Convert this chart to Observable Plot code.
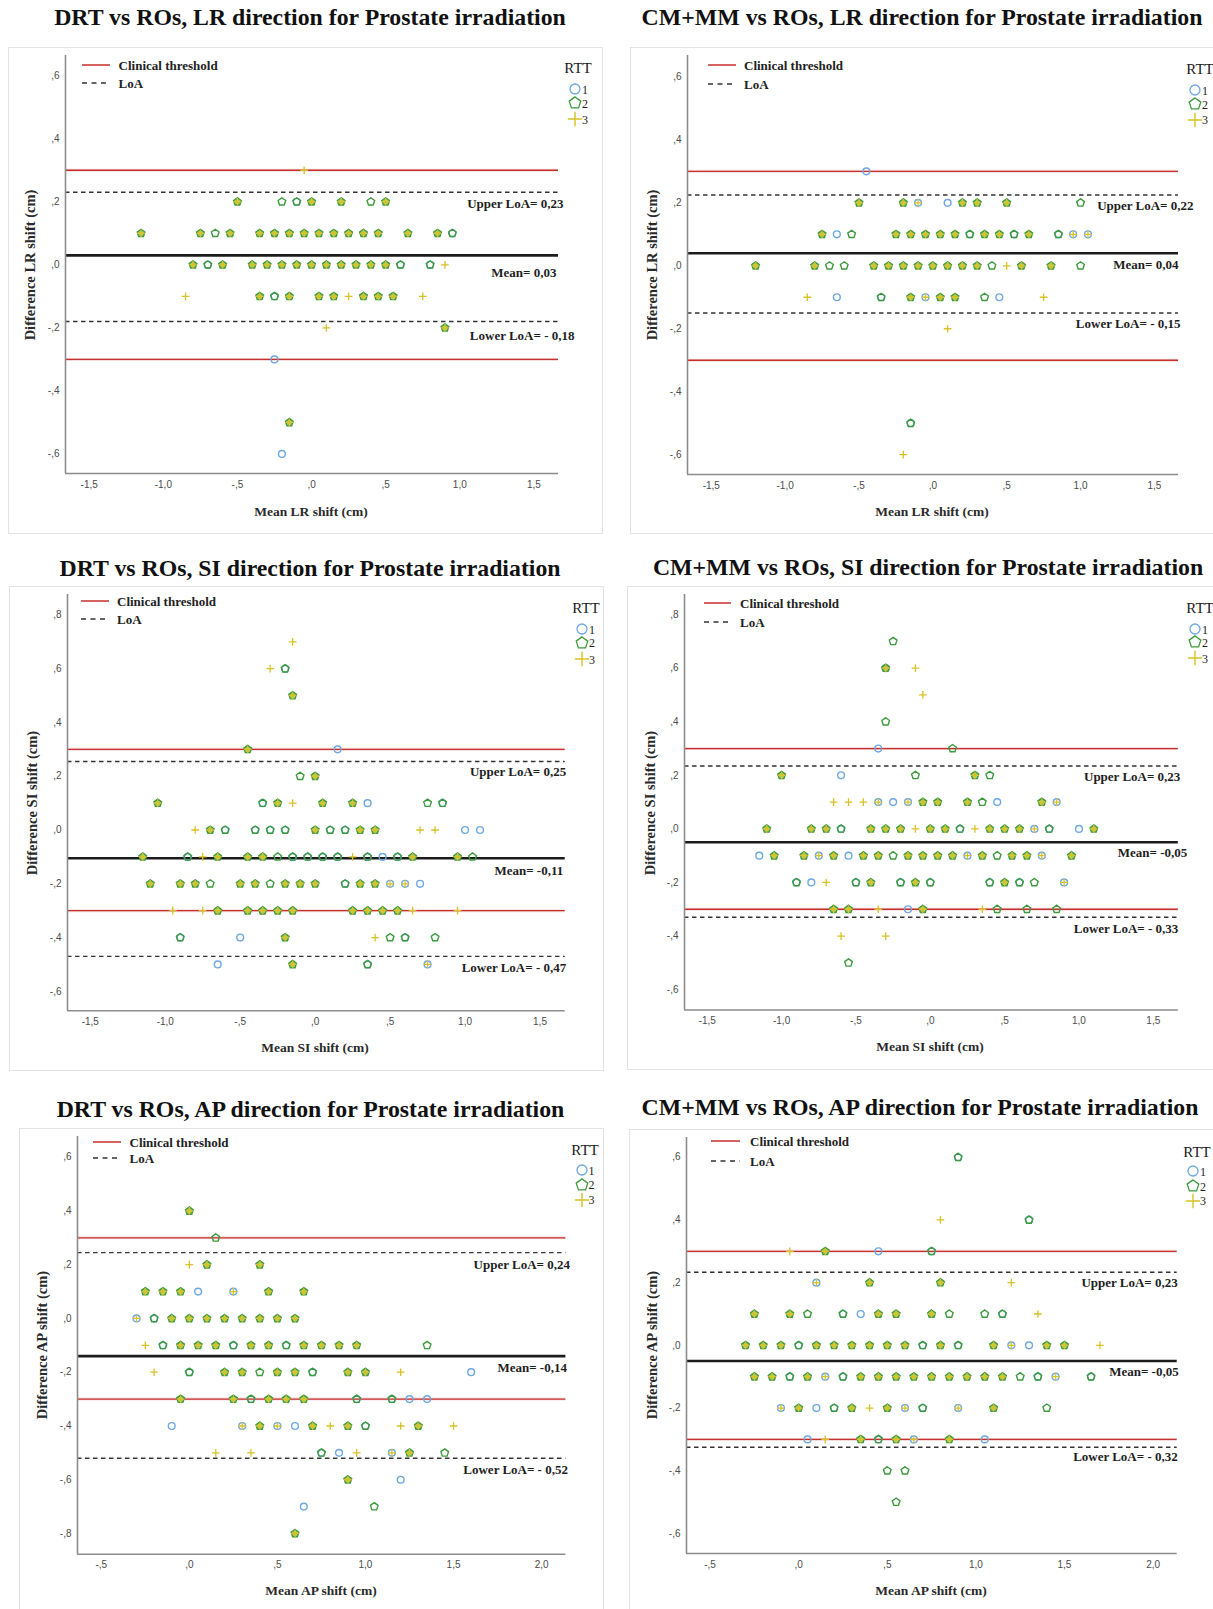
<!DOCTYPE html>
<html><head><meta charset="utf-8">
<script src="https://cdn.jsdelivr.net/npm/d3@7"></script>
<script src="https://cdn.jsdelivr.net/npm/@observablehq/plot@0.6"></script>
<style>
body{margin:0;background:#fff;}
#page{position:relative;width:1213px;height:1609px;overflow:hidden;background:#fff;font-family:"Liberation Serif","Times New Roman",serif;}
#page div{position:absolute;white-space:nowrap;line-height:1;}
</style>
</head><body><div id="page"></div>
<script>
// ---------------- DATA ----------------
const titles = [
  "DRT vs ROs, LR direction for Prostate irradiation",
  "CM+MM vs ROs, LR direction for Prostate irradiation",
  "DRT vs ROs, SI direction for Prostate irradiation",
  "CM+MM vs ROs, SI direction for Prostate irradiation",
  "DRT vs ROs, AP direction for Prostate irradiation",
  "CM+MM vs ROs, AP direction for Prostate irradiation"
];
const xTitles = ["Mean LR shift (cm)","Mean LR shift (cm)","Mean SI shift (cm)","Mean SI shift (cm)","Mean AP shift (cm)","Mean AP shift (cm)"];
const yTitles = ["Difference LR shift (cm)","Difference LR shift (cm)","Difference SI shift (cm)","Difference SI shift (cm)","Difference AP shift (cm)","Difference AP shift (cm)"];
const xTicksLRSI = [-1.5,-1,-0.5,0,0.5,1,1.5];
const xTicksAP = [-0.5,0,0.5,1,1.5,2];
const yTicks6 = [-0.6,-0.4,-0.2,0,0.2,0.4,0.6];
const yTicksSI = [-0.6,-0.4,-0.2,0,0.2,0.4,0.6,0.8];
const yTicksAP = [-0.8,-0.6,-0.4,-0.2,0,0.2,0.4,0.6];
const threshold = [-0.3, 0.3];
const meanDiff = [0.03, 0.04, -0.105, -0.05, -0.14, -0.05];
const upperLoA = [0.23, 0.225, 0.255, 0.235, 0.245, 0.233];
const lowerLoA = [-0.18, -0.15, -0.47, -0.33, -0.52, -0.325];
const upperLabels = ["Upper LoA= 0,23","Upper LoA= 0,22","Upper LoA= 0,25","Upper LoA= 0,23","Upper LoA= 0,24","Upper LoA= 0,23"];
const meanLabels = ["Mean= 0,03","Mean= 0,04","Mean= -0,11","Mean= -0,05","Mean= -0,14","Mean= -0,05"];
const lowerLabels = ["Lower LoA= - 0,18","Lower LoA= - 0,15","Lower LoA= - 0,47","Lower LoA= - 0,33","Lower LoA= - 0,52","Lower LoA= - 0,32"];
const rttLevels = ["1","2","3"];

// points: [mean shift, difference, RTTs having a point there]
const drtLR = [
[-0.05,0.3,"3"],
[-0.5,0.2,"23"],[-0.2,0.2,"2"],[-0.1,0.2,"12"],[0,0.2,"23"],[0.2,0.2,"23"],[0.4,0.2,"2"],[0.5,0.2,"23"],
[-1.15,0.1,"23"],[-0.75,0.1,"23"],[-0.65,0.1,"2"],[-0.55,0.1,"23"],[-0.35,0.1,"23"],[-0.25,0.1,"23"],[-0.15,0.1,"23"],[-0.05,0.1,"23"],[0.05,0.1,"23"],[0.15,0.1,"23"],[0.25,0.1,"23"],[0.35,0.1,"23"],[0.45,0.1,"23"],[0.65,0.1,"23"],[0.85,0.1,"23"],[0.95,0.1,"12"],
[-0.8,0,"23"],[-0.7,0,"12"],[-0.6,0,"23"],[-0.4,0,"23"],[-0.3,0,"23"],[-0.2,0,"23"],[-0.1,0,"23"],[0,0,"23"],[0.1,0,"23"],[0.2,0,"23"],[0.3,0,"23"],[0.4,0,"23"],[0.5,0,"23"],[0.6,0,"12"],[0.8,0,"12"],[0.9,0,"3"],
[-0.85,-0.1,"3"],[-0.35,-0.1,"23"],[-0.25,-0.1,"12"],[-0.15,-0.1,"23"],[0.05,-0.1,"23"],[0.15,-0.1,"23"],[0.25,-0.1,"3"],[0.35,-0.1,"23"],[0.45,-0.1,"23"],[0.55,-0.1,"23"],[0.75,-0.1,"3"],
[0.1,-0.2,"3"],[0.9,-0.2,"23"],
[-0.25,-0.3,"1"],
[-0.15,-0.5,"23"],
[-0.2,-0.6,"1"]
];
const cmLR = [
[-0.45,0.3,"1"],
[-0.5,0.2,"23"],[-0.2,0.2,"23"],[-0.1,0.2,"13"],[0.1,0.2,"1"],[0.2,0.2,"23"],[0.3,0.2,"23"],[0.5,0.2,"23"],[1.0,0.2,"2"],
[-0.75,0.1,"23"],[-0.65,0.1,"1"],[-0.55,0.1,"2"],[-0.25,0.1,"23"],[-0.15,0.1,"23"],[-0.05,0.1,"23"],[0.05,0.1,"23"],[0.15,0.1,"23"],[0.25,0.1,"12"],[0.35,0.1,"23"],[0.45,0.1,"23"],[0.55,0.1,"12"],[0.65,0.1,"23"],[0.85,0.1,"12"],[0.95,0.1,"13"],[1.05,0.1,"13"],
[-1.2,0,"23"],[-0.8,0,"23"],[-0.7,0,"2"],[-0.6,0,"2"],[-0.4,0,"23"],[-0.3,0,"23"],[-0.2,0,"23"],[-0.1,0,"23"],[0,0,"23"],[0.1,0,"23"],[0.2,0,"23"],[0.3,0,"23"],[0.4,0,"2"],[0.5,0,"3"],[0.6,0,"23"],[0.8,0,"23"],[1.0,0,"2"],
[-0.85,-0.1,"3"],[-0.65,-0.1,"1"],[-0.35,-0.1,"12"],[-0.15,-0.1,"23"],[-0.05,-0.1,"13"],[0.05,-0.1,"23"],[0.15,-0.1,"23"],[0.35,-0.1,"2"],[0.45,-0.1,"1"],[0.75,-0.1,"3"],
[0.1,-0.2,"3"],
[-0.15,-0.5,"12"],
[-0.2,-0.6,"3"]
];
const drtSI = [
[-0.15,0.7,"3"],
[-0.3,0.6,"3"],[-0.2,0.6,"12"],
[-0.15,0.5,"23"],
[-0.45,0.3,"23"],[0.15,0.3,"1"],
[-0.1,0.2,"2"],[0,0.2,"23"],
[-1.05,0.1,"23"],[-0.35,0.1,"12"],[-0.25,0.1,"23"],[-0.15,0.1,"3"],[0.05,0.1,"23"],[0.25,0.1,"23"],[0.35,0.1,"1"],[0.75,0.1,"2"],[0.85,0.1,"12"],
[-0.8,0,"3"],[-0.7,0,"23"],[-0.6,0,"12"],[-0.4,0,"12"],[-0.3,0,"12"],[-0.2,0,"12"],[0,0,"23"],[0.1,0,"12"],[0.2,0,"12"],[0.3,0,"23"],[0.4,0,"23"],[0.7,0,"3"],[0.8,0,"3"],[1.0,0,"1"],[1.1,0,"1"],
[-1.15,-0.1,"23"],[-0.85,-0.1,"12"],[-0.75,-0.1,"3"],[-0.65,-0.1,"23"],[-0.45,-0.1,"23"],[-0.35,-0.1,"23"],[-0.25,-0.1,"2"],[-0.15,-0.1,"12"],[-0.05,-0.1,"12"],[0.05,-0.1,"12"],[0.15,-0.1,"12"],[0.25,-0.1,"3"],[0.35,-0.1,"12"],[0.45,-0.1,"1"],[0.55,-0.1,"12"],[0.65,-0.1,"23"],[0.95,-0.1,"23"],[1.05,-0.1,"2"],
[-1.1,-0.2,"23"],[-0.9,-0.2,"23"],[-0.8,-0.2,"23"],[-0.7,-0.2,"2"],[-0.5,-0.2,"23"],[-0.4,-0.2,"23"],[-0.3,-0.2,"2"],[-0.2,-0.2,"23"],[-0.1,-0.2,"23"],[0,-0.2,"23"],[0.2,-0.2,"12"],[0.3,-0.2,"23"],[0.4,-0.2,"23"],[0.5,-0.2,"13"],[0.6,-0.2,"13"],[0.7,-0.2,"1"],
[-0.95,-0.3,"3"],[-0.75,-0.3,"3"],[-0.65,-0.3,"23"],[-0.45,-0.3,"23"],[-0.35,-0.3,"23"],[-0.25,-0.3,"23"],[-0.15,-0.3,"23"],[0.25,-0.3,"23"],[0.35,-0.3,"23"],[0.45,-0.3,"23"],[0.55,-0.3,"23"],[0.65,-0.3,"3"],[0.95,-0.3,"3"],
[-0.9,-0.4,"12"],[-0.5,-0.4,"1"],[-0.2,-0.4,"23"],[0.4,-0.4,"3"],[0.5,-0.4,"2"],[0.6,-0.4,"12"],[0.8,-0.4,"2"],
[-0.65,-0.5,"1"],[-0.15,-0.5,"23"],[0.35,-0.5,"12"],[0.75,-0.5,"13"]
];
const cmSI = [
[-0.25,0.7,"2"],
[-0.3,0.6,"123"],[-0.1,0.6,"3"],
[-0.05,0.5,"3"],
[-0.3,0.4,"2"],
[-0.35,0.3,"1"],[0.15,0.3,"2"],
[-1.0,0.2,"23"],[-0.6,0.2,"1"],[-0.1,0.2,"2"],[0.3,0.2,"23"],[0.4,0.2,"2"],
[-0.65,0.1,"3"],[-0.55,0.1,"3"],[-0.45,0.1,"3"],[-0.35,0.1,"13"],[-0.25,0.1,"1"],[-0.15,0.1,"13"],[-0.05,0.1,"23"],[0.05,0.1,"23"],[0.25,0.1,"23"],[0.35,0.1,"2"],[0.45,0.1,"1"],[0.75,0.1,"23"],[0.85,0.1,"13"],
[-1.1,0,"23"],[-0.8,0,"23"],[-0.7,0,"23"],[-0.6,0,"12"],[-0.4,0,"23"],[-0.3,0,"23"],[-0.2,0,"23"],[-0.1,0,"3"],[0,0,"23"],[0.1,0,"23"],[0.2,0,"12"],[0.3,0,"3"],[0.4,0,"23"],[0.5,0,"23"],[0.6,0,"23"],[0.7,0,"13"],[0.8,0,"12"],[1.0,0,"1"],[1.1,0,"23"],
[-1.15,-0.1,"1"],[-1.05,-0.1,"23"],[-0.85,-0.1,"23"],[-0.75,-0.1,"13"],[-0.65,-0.1,"23"],[-0.55,-0.1,"1"],[-0.45,-0.1,"23"],[-0.35,-0.1,"23"],[-0.25,-0.1,"2"],[-0.15,-0.1,"23"],[-0.05,-0.1,"23"],[0.05,-0.1,"23"],[0.15,-0.1,"23"],[0.25,-0.1,"13"],[0.35,-0.1,"23"],[0.45,-0.1,"2"],[0.55,-0.1,"23"],[0.65,-0.1,"23"],[0.75,-0.1,"13"],[0.95,-0.1,"23"],
[-0.9,-0.2,"12"],[-0.8,-0.2,"1"],[-0.7,-0.2,"3"],[-0.5,-0.2,"12"],[-0.4,-0.2,"23"],[-0.2,-0.2,"12"],[-0.1,-0.2,"23"],[0,-0.2,"12"],[0.4,-0.2,"12"],[0.5,-0.2,"23"],[0.6,-0.2,"12"],[0.7,-0.2,"2"],[0.9,-0.2,"13"],
[-0.65,-0.3,"23"],[-0.55,-0.3,"23"],[-0.35,-0.3,"3"],[-0.15,-0.3,"1"],[-0.05,-0.3,"23"],[0.35,-0.3,"3"],[0.45,-0.3,"2"],[0.65,-0.3,"2"],[0.85,-0.3,"2"],
[-0.6,-0.4,"3"],[-0.3,-0.4,"3"],
[-0.55,-0.5,"2"]
];
const drtAP = [
[0,0.4,"23"],
[0.15,0.3,"2"],
[0,0.2,"3"],[0.1,0.2,"23"],[0.4,0.2,"23"],
[-0.25,0.1,"23"],[-0.15,0.1,"23"],[-0.05,0.1,"23"],[0.05,0.1,"1"],[0.25,0.1,"13"],[0.45,0.1,"23"],[0.65,0.1,"23"],
[-0.3,0,"13"],[-0.2,0,"12"],[-0.1,0,"23"],[0,0,"23"],[0.1,0,"23"],[0.2,0,"23"],[0.3,0,"23"],[0.4,0,"23"],[0.5,0,"23"],[0.6,0,"23"],
[-0.25,-0.1,"3"],[-0.15,-0.1,"12"],[-0.05,-0.1,"23"],[0.05,-0.1,"23"],[0.15,-0.1,"23"],[0.25,-0.1,"12"],[0.35,-0.1,"23"],[0.45,-0.1,"23"],[0.55,-0.1,"12"],[0.65,-0.1,"23"],[0.75,-0.1,"23"],[0.85,-0.1,"23"],[0.95,-0.1,"23"],[1.35,-0.1,"2"],
[-0.2,-0.2,"3"],[0,-0.2,"12"],[0.2,-0.2,"23"],[0.3,-0.2,"23"],[0.4,-0.2,"2"],[0.5,-0.2,"23"],[0.6,-0.2,"23"],[0.7,-0.2,"12"],[0.9,-0.2,"23"],[1.0,-0.2,"23"],[1.2,-0.2,"3"],[1.6,-0.2,"1"],
[-0.05,-0.3,"23"],[0.25,-0.3,"23"],[0.35,-0.3,"12"],[0.45,-0.3,"23"],[0.55,-0.3,"23"],[0.65,-0.3,"23"],[0.95,-0.3,"12"],[1.15,-0.3,"12"],[1.25,-0.3,"1"],[1.35,-0.3,"1"],
[-0.1,-0.4,"1"],[0.3,-0.4,"13"],[0.4,-0.4,"23"],[0.5,-0.4,"13"],[0.6,-0.4,"1"],[0.7,-0.4,"23"],[0.8,-0.4,"3"],[0.9,-0.4,"23"],[1.0,-0.4,"12"],[1.2,-0.4,"3"],[1.3,-0.4,"23"],[1.5,-0.4,"3"],
[0.15,-0.5,"3"],[0.35,-0.5,"3"],[0.75,-0.5,"12"],[0.85,-0.5,"1"],[0.95,-0.5,"3"],[1.15,-0.5,"13"],[1.25,-0.5,"23"],[1.45,-0.5,"2"],
[0.9,-0.6,"23"],[1.2,-0.6,"1"],
[0.65,-0.7,"1"],[1.05,-0.7,"2"],
[0.6,-0.8,"23"]
];
const cmAP = [
[0.9,0.6,"12"],
[0.8,0.4,"3"],[1.3,0.4,"12"],
[-0.05,0.3,"3"],[0.15,0.3,"23"],[0.45,0.3,"1"],[0.75,0.3,"12"],
[0.1,0.2,"13"],[0.4,0.2,"23"],[0.8,0.2,"23"],[1.2,0.2,"3"],
[-0.25,0.1,"23"],[-0.05,0.1,"23"],[0.05,0.1,"2"],[0.25,0.1,"12"],[0.35,0.1,"1"],[0.45,0.1,"23"],[0.55,0.1,"23"],[0.75,0.1,"23"],[0.85,0.1,"2"],[1.05,0.1,"2"],[1.15,0.1,"12"],[1.35,0.1,"3"],
[-0.3,0,"23"],[-0.2,0,"23"],[-0.1,0,"23"],[0,0,"12"],[0.1,0,"23"],[0.2,0,"23"],[0.3,0,"23"],[0.4,0,"23"],[0.5,0,"23"],[0.6,0,"23"],[0.7,0,"12"],[0.8,0,"23"],[0.9,0,"12"],[1.1,0,"23"],[1.2,0,"13"],[1.3,0,"1"],[1.4,0,"23"],[1.5,0,"23"],[1.7,0,"3"],
[-0.25,-0.1,"23"],[-0.15,-0.1,"23"],[-0.05,-0.1,"12"],[0.05,-0.1,"23"],[0.15,-0.1,"13"],[0.25,-0.1,"12"],[0.35,-0.1,"23"],[0.45,-0.1,"23"],[0.55,-0.1,"23"],[0.65,-0.1,"23"],[0.75,-0.1,"23"],[0.85,-0.1,"23"],[0.95,-0.1,"23"],[1.05,-0.1,"23"],[1.15,-0.1,"23"],[1.25,-0.1,"2"],[1.35,-0.1,"12"],[1.45,-0.1,"13"],[1.65,-0.1,"12"],
[-0.1,-0.2,"13"],[0,-0.2,"23"],[0.1,-0.2,"1"],[0.2,-0.2,"12"],[0.3,-0.2,"23"],[0.4,-0.2,"3"],[0.5,-0.2,"23"],[0.6,-0.2,"13"],[0.7,-0.2,"12"],[0.9,-0.2,"13"],[1.1,-0.2,"23"],[1.4,-0.2,"2"],
[0.05,-0.3,"1"],[0.15,-0.3,"3"],[0.35,-0.3,"23"],[0.45,-0.3,"12"],[0.55,-0.3,"23"],[0.65,-0.3,"13"],[0.85,-0.3,"23"],[1.05,-0.3,"1"],
[0.5,-0.4,"2"],[0.6,-0.4,"2"],
[0.55,-0.5,"2"]
];

// ---------------- STYLE / LAYOUT ----------------
const blue = "#6ea8e4", green = "#3d9a3d", yellow = "#d8c226", red = "#c62f2d", mixFill = "#b9c95a";
const pentagon = {draw(ctx, size) {
  const R = Math.sqrt(size / 2.378);
  for (let k = 0; k < 5; k++) {
    const a = -Math.PI / 2 + k * 2 * Math.PI / 5;
    const px = R * Math.cos(a), py = R * Math.sin(a);
    if (k === 0) ctx.moveTo(px, py); else ctx.lineTo(px, py);
  }
  ctx.closePath();
}};
const fmt = v => {
  let s = Math.abs(v) < 1e-9 ? "0,0" : v.toFixed(1).replace(".", ",");
  return s.replace(/^(-?)0,/, "$1,");
};

const panels = [
 {data: drtLR, plot:{l:65,r:558,t:55,b:473}, xd:[-1.66,1.666], yd:[-0.662,0.664], xt:xTicksLRSI, yt:yTicks6,
  off:[[5,12],[-2,17],[16,14.6]], title:[310,18], frame:[8,47,595,487],
  leg:{x1:82,x2:110,y1:65,y2:83,tx:118.6}, rtt:{cx:578,cy:68,sx:575,sy:[89,103,119],nx:582}, xT:[311,511.5], yT:[30,265]},
 {data: cmLR, plot:{l:687,r:1178,t:55,b:474}, xd:[-1.661,1.663], yd:[-0.663,0.668], xt:xTicksLRSI, yt:yTicks6,
  off:[[15,11],[0,11.4],[2,11.3]], title:[922,17.5], frame:[630,47,600,487],
  leg:{x1:708,x2:736,y1:64.7,y2:83.6,tx:744}, rtt:{cx:1200,cy:69,sx:1195,sy:[90,104,119.7],nx:1202}, xT:[932,511.5], yT:[651.5,265]},
 {data: drtSI, plot:{l:67.3,r:565,t:594,b:1010.2}, xd:[-1.652,1.668], yd:[-0.672,0.876], xt:xTicksLRSI, yt:yTicksSI,
  off:[[1,10],[-2,12.3],[1,11.2]], title:[310,569], frame:[8.6,586.4,595.4,485],
  leg:{x1:81,x2:109,y1:601,y2:619,tx:117}, rtt:{cx:586,cy:608,sx:582,sy:[629,642.5,659],nx:589}, xT:[315,1048], yT:[32.3,803]},
 {data: cmSI, plot:{l:684.2,r:1178,t:594,b:1009.5}, xd:[-1.653,1.668], yd:[-0.676,0.875], xt:xTicksLRSI, yt:yTicksSI,
  off:[[2,10.7],[9,10.6],[0,12]], title:[928,567.5], frame:[627,586.4,600,483.6],
  leg:{x1:704,x2:731,y1:603,y2:621.5,tx:740}, rtt:{cx:1200,cy:608,sx:1195,sy:[629,642,658],nx:1202}, xT:[930,1046.7], yT:[650.4,803]},
 {data: drtAP, plot:{l:76.6,r:565,t:1135.7,b:1553.4}, xd:[-0.635,2.138], yd:[-0.877,0.677], xt:xTicksAP, yt:yTicksAP,
  off:[[4,12.4],[1,11.4],[2,11.3]], title:[310.5,1110], frame:[18.7,1128,585.3,500],
  leg:{x1:93,x2:121,y1:1141.7,y2:1158.3,tx:129.5}, rtt:{cx:585,cy:1150,sx:581.5,sy:[1170.4,1184.6,1199.8],nx:588.5}, xT:[321,1591], yT:[42,1345]},
 {data: cmAP, plot:{l:685.8,r:1176.5,t:1137.4,b:1553.4}, xd:[-0.633,2.136], yd:[-0.664,0.663], xt:xTicksAP, yt:yTicks6,
  off:[[0.5,10.6],[1.5,10.6],[0.5,10]], title:[920,1108], frame:[628.5,1129,600,500],
  leg:{x1:711,x2:740,y1:1140.7,y2:1161,tx:750}, rtt:{cx:1197,cy:1151.5,sx:1193,sy:[1171,1186,1200.8],nx:1200}, xT:[931,1591], yT:[651.5,1345]}
];

const page = document.getElementById("page");
function txt(s, x, y, css, tr) {
  const d = document.createElement("div");
  d.textContent = s;
  d.style.cssText = `left:${x}px;top:${y}px;transform:${tr || "translate(-50%,-50%)"};` + css;
  page.appendChild(d);
  return d;
}
function svgEl(x, y, w, h, inner) {
  const d = document.createElement("div");
  d.style.cssText = `left:${x}px;top:${y}px;width:${w}px;height:${h}px;`;
  d.innerHTML = `<svg width="${w}" height="${h}" style="overflow:visible;display:block">${inner}</svg>`;
  page.appendChild(d);
}
const symPath = (type, size) => d3.symbol().type(type).size(size)();

panels.forEach((p, i) => {
  // frame
  const fr = document.createElement("div");
  fr.style.cssText = `left:${p.frame[0]}px;top:${p.frame[1]}px;width:${p.frame[2]}px;height:${p.frame[3]}px;border:1.5px solid #e3e3e3;box-sizing:border-box;`;
  page.appendChild(fr);

  // title
  txt(titles[i], p.title[0], p.title[1], "font-weight:bold;font-size:23.8px;color:#111;");

  // plot
  const mL = 60, mR = 60, mT = 10, mB = 30;
  const W = p.plot.r - p.plot.l + mL + mR, H = p.plot.b - p.plot.t + mT + mB;
  const s1 = p.data.filter(d => d[2].includes("1"));
  const s2 = p.data.filter(d => d[2].includes("2"));
  const s3 = p.data.filter(d => d[2].includes("3"));
  const lbl = (v, t, o) => Plot.text([v], {y: d => d, frameAnchor: "right", text: () => t, textAnchor: "end",
      dx: o[0], dy: o[1], fontWeight: "bold", fontSize: 13, fill: "#1e1e1e", fontFamily: "Liberation Serif, serif"});
  const tickFont = {fontSize: 10, color: "#4a4a4a", fontFamily: "Liberation Sans, Arial, sans-serif"};
  const chart = Plot.plot({
    width: W, height: H, marginLeft: mL, marginRight: mR, marginTop: mT, marginBottom: mB,
    style: {background: "transparent", fontFamily: "Liberation Sans, sans-serif", overflow: "visible"},
    x: {domain: p.xd}, y: {domain: p.yd},
    marks: [
      Plot.ruleY(threshold, {stroke: "#f4dcdc", strokeWidth: 3}),
      Plot.ruleY(threshold, {stroke: red, strokeWidth: 1.3}),
      Plot.ruleY([upperLoA[i], lowerLoA[i]], {stroke: "#333", strokeWidth: 1.4, strokeDasharray: "4.5,3.5"}),
      Plot.ruleY([meanDiff[i]], {stroke: "#1c1c1c", strokeWidth: 2.6}),
      Plot.ruleX([p.xd[0]], {stroke: "#8c8c8c", strokeWidth: 1.6}),
      Plot.ruleY([p.yd[0]], {stroke: "#8c8c8c", strokeWidth: 1.6}),
      Plot.axisX({ticks: p.xt, tickSize: 0, tickPadding: 7, tickFormat: fmt, label: null, ...tickFont}),
      Plot.axisY({ticks: p.yt, tickSize: 0, tickPadding: 6, tickFormat: fmt, label: null, ...tickFont}),
      Plot.dot(s1, {x: d => d[0], y: d => d[1], symbol: "circle", r: 3.4, stroke: blue, strokeWidth: 1.4, fill: "none"}),
      Plot.dot(s2, {x: d => d[0], y: d => d[1], symbol: pentagon, r: 3.5, stroke: green, strokeWidth: 1.4,
        fill: d => d[2].includes("3") ? mixFill : "none"}),
      Plot.dot(s3, {x: d => d[0], y: d => d[1], symbol: "plus", r: 2.6, stroke: yellow, strokeWidth: 1.3, fill: "none"}),
      lbl(upperLoA[i], upperLabels[i], p.off[0]),
      lbl(meanDiff[i], meanLabels[i], p.off[1]),
      lbl(lowerLoA[i], lowerLabels[i], p.off[2])
    ]
  });
  const holder = document.createElement("div");
  holder.style.cssText = `left:${p.plot.l - mL}px;top:${p.plot.t - mT}px;width:${W}px;height:${H}px;`;
  holder.appendChild(chart);
  page.appendChild(holder);

  // axis titles
  txt(xTitles[i], p.xT[0], p.xT[1], "font-weight:bold;font-size:13.5px;color:#2a2a2a;");
  txt(yTitles[i], p.yT[0], p.yT[1], "font-weight:bold;font-size:14.5px;color:#2a2a2a;", "translate(-50%,-50%) rotate(-90deg)");

  // line legend
  const L = p.leg, lw = L.x2 - L.x1;
  svgEl(L.x1, L.y1 - 3, lw, 6, `<line x1="0" x2="${lw}" y1="3" y2="3" stroke="${red}" stroke-width="1.5"/>`);
  svgEl(L.x1, L.y2 - 3, lw, 6, `<line x1="0" x2="${lw}" y1="3" y2="3" stroke="#333" stroke-width="1.4" stroke-dasharray="5,4.5"/>`);
  txt("Clinical threshold", L.tx, L.y1, "font-weight:bold;font-size:13px;color:#222;", "translate(0,-50%)");
  txt("LoA", L.tx, L.y2, "font-weight:bold;font-size:13px;color:#222;", "translate(0,-50%)");

  // RTT legend
  const R = p.rtt;
  txt("RTT", R.cx, R.cy, "font-size:15px;color:#1a1a1a;");
  const syms = [
    `<path d="${symPath(d3.symbolCircle, Math.PI * 25)}" fill="none" stroke="${blue}" stroke-width="1.3"/>`,
    `<path d="${symPath(pentagon, Math.PI * 28)}" fill="none" stroke="${green}" stroke-width="1.3"/>`,
    `<path d="${symPath(d3.symbolPlus, Math.PI * 22)}" fill="none" stroke="${yellow}" stroke-width="1.4"/>`
  ];
  rttLevels.forEach((lv, k) => {
    svgEl(R.sx - 7, R.sy[k] - 7, 14, 14, `<g transform="translate(7,7)">${syms[k]}</g>`);
    txt(lv, R.nx, R.sy[k] + 0.5, "font-size:12px;color:#222;", "translate(0,-50%)");
  });
});
</script>
</body></html>
